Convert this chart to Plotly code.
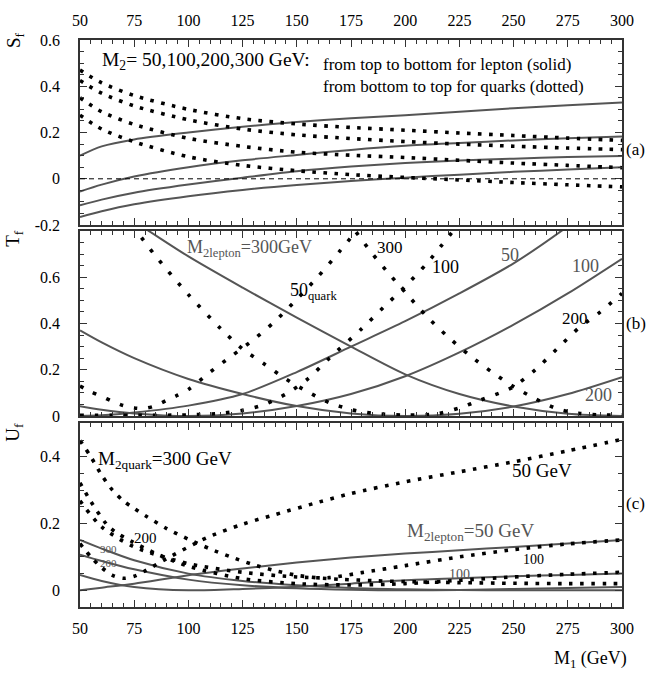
import plotly.graph_objects as go

# ---------------- data ----------------
M_grid = [50, 60, 75, 100, 125, 150, 175, 200, 225, 250, 275, 300]

# Panel (a): S_f, leptons (solid), M2 = 50, 100, 200, 300
S_lep_50 = [0.10, 0.14, 0.17, 0.20, 0.225, 0.245, 0.262, 0.275, 0.29, 0.305, 0.318, 0.33]
S_lep_100 = [-0.055, -0.025, 0.01, 0.05, 0.08, 0.103, 0.125, 0.143, 0.155, 0.166, 0.175, 0.183]
S_lep_200 = [-0.115, -0.09, -0.06, -0.025, 0.005, 0.033, 0.053, 0.068, 0.079, 0.087, 0.094, 0.099]
S_lep_300 = [-0.165, -0.14, -0.11, -0.075, -0.048, -0.027, -0.01, 0.005, 0.018, 0.03, 0.04, 0.05]
# Panel (a): S_f, quarks (dotted)
S_q_300 = [0.47, 0.415, 0.36, 0.30, 0.26, 0.237, 0.222, 0.21, 0.198, 0.187, 0.176, 0.166]
S_q_200 = [0.425, 0.37, 0.315, 0.255, 0.215, 0.19, 0.174, 0.161, 0.15, 0.141, 0.133, 0.126]
S_q_100 = [0.35, 0.29, 0.235, 0.175, 0.14, 0.115, 0.102, 0.092, 0.08, 0.068, 0.058, 0.048]
S_q_50 = [0.275, 0.215, 0.16, 0.095, 0.058, 0.035, 0.018, 0.006, -0.005, -0.016, -0.026, -0.035]

# Panel (b): T_f, leptons (solid)
T_lep_50 = [0.0, 0.003, 0.015, 0.045, 0.095, 0.19, 0.30, 0.41, 0.53, 0.66, 0.82, 1.0]
T_lep_100 = [0.042, 0.027, 0.011, 0.0, 0.011, 0.043, 0.095, 0.172, 0.275, 0.395, 0.53, 0.68]
T_lep_200 = [0.37, 0.318, 0.25, 0.16, 0.095, 0.043, 0.011, 0.0, 0.01, 0.041, 0.095, 0.168]
T_lep_300 = [1.0, 0.92, 0.84, 0.69, 0.555, 0.425, 0.30, 0.18, 0.095, 0.041, 0.01, 0.0]
# Panel (b): T_f, quarks (dotted)
T_q50_M = [50, 55, 60, 65, 70, 75, 80, 85, 90, 95, 100, 110, 120, 130, 140, 150, 160, 170, 180]
T_q50 = [0.13, 0.105, 0.085, 0.063, 0.045, 0.035, 0.033, 0.045, 0.068, 0.09, 0.115, 0.19, 0.26,
         0.33, 0.41, 0.505, 0.605, 0.715, 0.83]
T_q100_M = [50, 75, 100, 115, 125, 135, 145, 155, 165, 180, 190, 200, 210, 225]
T_q100 = [0.003, 0.003, 0.005, 0.012, 0.025, 0.05, 0.095, 0.16, 0.25, 0.378, 0.47, 0.56, 0.66, 0.835]
T_q200_M = [70, 76, 85, 100, 115, 125, 135, 145, 155, 165, 175, 185, 200, 215, 225, 235, 245,
            250, 260, 270, 280, 290, 300]
T_q200 = [0.87, 0.80, 0.69, 0.525, 0.377, 0.29, 0.225, 0.16, 0.105, 0.058, 0.028, 0.012, 0.004,
          0.01, 0.035, 0.07, 0.105, 0.127, 0.2, 0.29, 0.38, 0.45, 0.53]
T_q300_M = [170, 177, 185, 193, 200, 210, 220, 230, 240, 250, 260, 270, 280, 290, 300]
T_q300 = [0.9, 0.8, 0.70, 0.61, 0.535, 0.43, 0.34, 0.26, 0.19, 0.127, 0.075, 0.032, 0.012, 0.005, 0.004]

# Panel (c): U_f, leptons (solid)
U_lep_50 = [0.0, 0.008, 0.02, 0.045, 0.065, 0.083, 0.098, 0.11, 0.12, 0.13, 0.14, 0.151]
U_lep_100 = [0.046, 0.028, 0.01, 0.0, 0.004, 0.011, 0.02, 0.03, 0.036, 0.042, 0.046, 0.05]
U_lep_200 = [0.107, 0.088, 0.063, 0.032, 0.015, 0.006, 0.0015, 0.0, 0.001, 0.004, 0.007, 0.01]
U_lep_300 = [0.151, 0.125, 0.09, 0.05, 0.028, 0.015, 0.007, 0.003, 0.001, 0.0, 0.0, 0.0]
# Panel (c): U_f, quarks (dotted)
U_q50_M = [50, 55, 60, 65, 70, 75, 80, 90, 103, 110, 125, 140, 160, 175, 200, 225, 250, 275, 300]
U_q50 = [0.14, 0.10, 0.068, 0.045, 0.036, 0.042, 0.058, 0.095, 0.14, 0.162, 0.198, 0.227, 0.264,
         0.29, 0.325, 0.355, 0.385, 0.418, 0.452]
U_q100_M = [50, 60, 75, 100, 125, 150, 165, 180, 200, 225, 250, 275, 300]
U_q100 = [0.268, 0.19, 0.13, 0.08, 0.054, 0.04, 0.038, 0.053, 0.074, 0.10, 0.122, 0.139, 0.151]
U_q200_M = [50, 55, 62, 66, 74, 85, 100, 125, 150, 175, 200, 225, 250, 275, 300]
U_q200 = [0.322, 0.266, 0.20, 0.176, 0.146, 0.11, 0.072, 0.035, 0.02, 0.016, 0.02, 0.03, 0.04,
          0.048, 0.054]
U_q300_M = [50, 55, 60, 65, 70, 75, 80, 90, 100, 110, 120, 130, 140, 150, 160, 170, 185, 200, 225,
            250, 275, 300]
U_q300 = [0.449, 0.40, 0.345, 0.30, 0.268, 0.245, 0.224, 0.185, 0.153, 0.124, 0.099, 0.077, 0.059,
          0.045, 0.037, 0.033, 0.029, 0.026, 0.023, 0.021, 0.02, 0.02]

x_ticks = [50, 75, 100, 125, 150, 175, 200, 225, 250, 275, 300]

# ---------------- figure ----------------
FONT = "Liberation Serif"
SOLID = "#555555"
fig = go.Figure()


def solid(x, y, n):
    fig.add_trace(go.Scatter(x=x, y=y, xaxis="x" + n, yaxis="y" + n, mode="lines",
                             line=dict(color=SOLID, width=2, shape="spline", smoothing=0.8),
                             hoverinfo="skip", showlegend=False))


def dotted(x, y, n, gap):
    fig.add_trace(go.Scatter(x=x, y=y, xaxis="x" + n, yaxis="y" + n, mode="lines",
                             line=dict(color="black", width=3.6, dash="3.6px,%gpx" % gap,
                                       shape="spline", smoothing=0.8),
                             hoverinfo="skip", showlegend=False))


for ys in (S_lep_50, S_lep_100, S_lep_200, S_lep_300):
    solid(M_grid, ys, "")
for ys in (S_q_300, S_q_200, S_q_100, S_q_50):
    dotted(M_grid, ys, "", 7.4)

for ys in (T_lep_50, T_lep_100, T_lep_200, T_lep_300):
    solid(M_grid, ys, "2")
dotted(T_q50_M, T_q50, "2", 11)
dotted(T_q100_M, T_q100, "2", 11)
dotted(T_q200_M, T_q200, "2", 11)
dotted(T_q300_M, T_q300, "2", 11)

for ys in (U_lep_50, U_lep_100, U_lep_200, U_lep_300):
    solid(M_grid, ys, "3")
dotted(U_q50_M, U_q50, "3", 7.6)
dotted(U_q100_M, U_q100, "3", 7.6)
dotted(U_q200_M, U_q200, "3", 7.6)
dotted(U_q300_M, U_q300, "3", 7.6)

fig.add_hline(y=0, line=dict(color="black", width=1, dash="5px,4px"), xref="x", yref="y")

axis_common = dict(showline=True, linecolor="#333", linewidth=1.5, mirror="allticks",
                   ticks="inside", ticklen=7, tickwidth=1.2, tickcolor="#333",
                   showgrid=False, zeroline=False,
                   tickfont=dict(family=FONT, size=16, color="black"))

xcommon = dict(axis_common, range=[50, 300], tickmode="array", tickvals=x_ticks,
               minor=dict(tickmode="linear", tick0=50, dtick=5, ticks="inside", ticklen=4,
                          tickcolor="#333", showgrid=False),
               ticklabelstandoff=6)

ymin = dict(ticks="inside", ticklen=4, tickcolor="#333", showgrid=False,
            tickmode="linear", tick0=0, dtick=0.05)

fig.update_layout(
    width=647, height=673,
    margin=dict(l=80, r=25, t=28, b=66),
    paper_bgcolor="white", plot_bgcolor="white",
    font=dict(family=FONT, size=16, color="black"),
    xaxis=dict(xcommon, anchor="y", side="top", showticklabels=True),
    xaxis2=dict(xcommon, anchor="y2", showticklabels=False),
    xaxis3=dict(xcommon, anchor="y3", showticklabels=True),
    yaxis=dict(axis_common, domain=[0.6736, 1.0], range=[-0.2, 0.6], anchor="x",
               tickmode="array", tickvals=[-0.2, 0, 0.2, 0.4, 0.6],
               ticktext=["-0.2", "0", "0.2", "0.4", "0.6"], minor=ymin, ticklabelstandoff=15),
    yaxis2=dict(axis_common, domain=[0.3368, 0.6632], range=[0, 0.8], anchor="x2",
                tickmode="array", tickvals=[0, 0.2, 0.4, 0.6],
                ticktext=["0", "0.2", "0.4", "0.6"], minor=ymin, ticklabelstandoff=15),
    yaxis3=dict(axis_common, domain=[0.0, 0.3238], range=[-0.05, 0.5], anchor="x3",
                tickmode="array", tickvals=[0, 0.2, 0.4],
                ticktext=["0", "0.2", "0.4"], minor=ymin, ticklabelstandoff=15),
)

anns = []


def ann(text, x, y, xref, yref, size=17, color="black", xanchor="left", angle=0):
    anns.append(dict(text=text, x=x, y=y, xref=xref, yref=yref, showarrow=False,
                     xanchor=xanchor, yanchor="middle", textangle=angle, align="left",
                     font=dict(family=FONT, size=size, color=color)))


# axis titles
ann("S<sub>f</sub>", -0.12, 1.0, "paper", "paper", 19, angle=-90, xanchor="center")
ann("T<sub>f</sub>", -0.122, 0.651, "paper", "paper", 19, angle=-90, xanchor="center")
ann("U<sub>f</sub>", -0.122, 0.309, "paper", "paper", 19, angle=-90, xanchor="center")
ann("M<sub>1</sub> (GeV)", 0.942, -0.092, "paper", "paper", 18, xanchor="center")

# panel tags
ann("(a)", 1.0045, 0.127, "paper", "y", 17)
ann("(b)", 1.0045, 0.40, "paper", "y2", 17)
ann("(c)", 1.0045, 0.26, "paper", "y3", 17)

# panel (a) texts
ann("M<sub>2</sub>= 50,100,200,300 GeV:", 59, 0.51, "x", "y", 19.5)
ann("from top to bottom for lepton (solid)<br>from bottom to top for quarks (dotted)",
    161, 0.446, "x", "y", 17)

# panel (b) texts
ann("M<sub>2lepton</sub>=300GeV", 98.3, 0.725, "x2", "y2", 18, SOLID)
ann("300", 193, 0.73, "x2", "y2", 17, xanchor="center")
ann("100", 218.8, 0.645, "x2", "y2", 18, xanchor="center")
ann("50", 248.3, 0.695, "x2", "y2", 18, SOLID, xanchor="center")
ann("100", 283, 0.65, "x2", "y2", 18, SOLID, xanchor="center")
ann("200", 278.3, 0.42, "x2", "y2", 17, xanchor="center")
ann("200", 289, 0.09, "x2", "y2", 18, SOLID, xanchor="center")
ann("50<sub>quark</sub>", 146, 0.54, "x2", "y2", 18)

# panel (c) texts
ann("M<sub>2quark</sub>=300 GeV", 57.4, 0.39, "x3", "y3", 19)
ann("200", 80.4, 0.156, "x3", "y3", 15, xanchor="center")
ann("300", 63, 0.124, "x3", "y3", 11, SOLID, xanchor="center")
ann("200", 63, 0.083, "x3", "y3", 11, SOLID, xanchor="center")
ann("50 GeV", 263, 0.358, "x3", "y3", 19, xanchor="center")
ann("M<sub>2lepton</sub>=50 GeV", 200, 0.176, "x3", "y3", 19, SOLID)
ann("100", 259, 0.092, "x3", "y3", 14, xanchor="center")
ann("100", 225, 0.048, "x3", "y3", 14, SOLID, xanchor="center")

fig.update_layout(annotations=anns)
fig.write_html("out.html", config={"displayModeBar": False},
               post_script="document.body.style.margin='0px';")
